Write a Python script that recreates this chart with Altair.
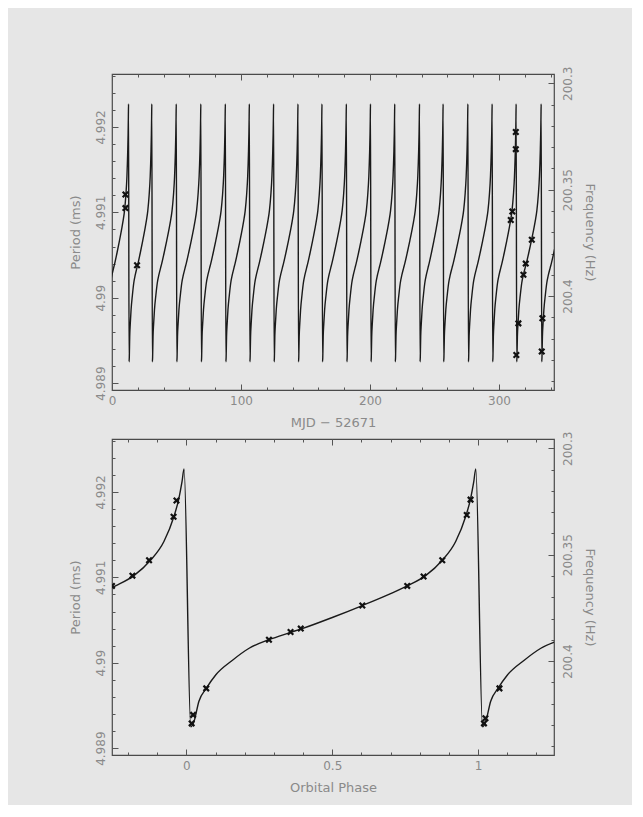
import altair as alt
import pandas as pd

# ---------------- values ----------------
# one orbital cycle of the period curve (bottom panel), phase vs period (ms)
cycle_phase = [0.015, 0.025, 0.043, 0.068, 0.101, 0.158, 0.215, 0.283, 0.352, 0.397,
               0.500, 0.603, 0.700, 0.757, 0.820, 0.877, 0.923, 0.957, 0.974, 0.985, 0.992]
cycle_period = [4.98925, 4.98930, 4.98955, 4.98970, 4.98986, 4.99003, 4.99017, 4.99027,
                4.99035, 4.99040, 4.99053, 4.99067, 4.99081, 4.99090, 4.99102, 4.99120,
                4.99142, 4.99171, 4.99192, 4.99212, 4.99227]

# days (MJD - 52671) of the periastron spikes seen in the top panel
spike_day = [12.96, 31.0, 49.96, 69.0, 88.0, 106.6, 125.4, 144.3, 162.9, 181.8,
             200.5, 219.3, 238.5, 256.8, 276.0, 294.8, 313.4, 332.8]

# measured periods, top panel
top_obs_day = [10.4, 10.4, 19.4, 309.1, 310.3, 313.0, 313.0, 313.4, 315.0, 318.9,
               320.7, 325.4, 333.1, 333.6]
top_obs_period = [4.99121, 4.99105, 4.99038, 4.99091, 4.99101, 4.99194, 4.99174, 4.98933,
                  4.98970, 4.99027, 4.99040, 4.99068, 4.98937, 4.98976]

# measured periods, bottom panel (folded on orbital phase)
bot_obs_phase = [-0.255, -0.185, -0.128, -0.044, -0.034, 0.018, 0.023, 0.068, 0.283, 0.357,
                 0.392, 0.603, 0.757, 0.813, 0.877, 0.961, 0.974, 1.020, 1.025, 1.073]
bot_obs_period = [4.99090, 4.99102, 4.99120, 4.99171, 4.99190, 4.98929, 4.98939, 4.98970,
                  4.99027, 4.99036, 4.99040, 4.99067, 4.99090, 4.99101, 4.99120, 4.99173,
                  4.99191, 4.98929, 4.98935, 4.98970]

# axis ticks
period_major = [4.989, 4.990, 4.991, 4.992]
period_minor = [4.9890, 4.9892, 4.9894, 4.9896, 4.9898, 4.9900, 4.9902, 4.9904, 4.9906,
                4.9908, 4.9910, 4.9912, 4.9914, 4.9916, 4.9918, 4.9920, 4.9922, 4.9924, 4.9926]
freq_major = [200.30, 200.35, 200.40]
freq_minor = [200.30, 200.31, 200.32, 200.33, 200.34, 200.35, 200.36, 200.37, 200.38,
              200.39, 200.40, 200.41, 200.42, 200.43, 200.44]
mjd_major = [0, 100, 200, 300]
mjd_minor = [0, 20, 40, 60, 80, 100, 120, 140, 160, 180, 200, 220, 240, 260, 280, 300, 320, 340]
phase_major = [0, 0.5, 1]
phase_minor = [-0.2, -0.1, 0.0, 0.1, 0.2, 0.3, 0.4, 0.5, 0.6, 0.7, 0.8, 0.9, 1.0, 1.1, 1.2]

period_domain = [4.98892, 4.99262]
mjd_domain = [0, 342.6]
phase_domain = [-0.255, 1.26]

# ---------------- tables built from the arrays ----------------
# bottom panel: the read cycle shown at phase-1, phase, phase+1
bot_rows = []
for k in (-1, 0, 1):
    for ph, p in zip(cycle_phase, cycle_period):
        bot_rows.append({"x": ph + k, "p": p})
bot_curve = pd.DataFrame(bot_rows)

# top panel: the same cycle placed between consecutive spikes
epochs = list(spike_day)
first_gap = epochs[1] - epochs[0]
last_gap = epochs[-1] - epochs[-2]
epochs = [epochs[0] - first_gap] + epochs + [epochs[-1] + last_gap]
top_rows = []
for a, b in zip(epochs[:-1], epochs[1:]):
    for ph, p in zip(cycle_phase, cycle_period):
        top_rows.append({"x": a + ph * (b - a), "p": p})
top_curve = pd.DataFrame(top_rows)

top_obs = pd.DataFrame({"x": top_obs_day, "p": top_obs_period})
bot_obs = pd.DataFrame({"x": bot_obs_phase, "p": bot_obs_period})

freq_major_p = [1000.0 / f for f in freq_major]
freq_minor_p = [1000.0 / f for f in freq_minor]

TXT = "#8a8a8a"
TICK = "#555555"
FONT = "DejaVu Sans"
MAJ = 6
MIN = 3
freq_expr = "format(1000/datum.value, '.2~f')"


def panel(curve, obs, xdom, xmaj, xmin, xfmt, xtitle):
    xs = alt.Scale(domain=xdom, nice=False, zero=False)
    ys = alt.Scale(domain=period_domain, nice=False, zero=False)

    def xax(orient, vals, size, labels=False, title=None):
        kw = dict(orient=orient, values=vals, tickSize=size, offset=-size, domain=False,
                  grid=False, labels=labels, tickColor=TICK, tickWidth=1)
        if labels:
            kw.update(format=xfmt, labelFlush=False, labelPadding=5, labelFont=FONT,
                      labelFontSize=12, labelColor=TXT)
        if title:
            kw.update(title=title, titleFont=FONT, titleFontSize=13, titleColor=TXT,
                      titleFontWeight="normal", titlePadding=10)
        else:
            kw.update(title=None)
        return alt.Axis(**kw)

    def yax(orient, vals, size, labels=False, title=None, expr=None):
        kw = dict(orient=orient, values=vals, tickSize=size, offset=-size, domain=False,
                  grid=False, labels=labels, tickColor=TICK, tickWidth=1)
        if labels:
            kw.update(labelAngle=-90 if orient == "left" else 270, labelAlign="center",
                      labelBaseline="bottom" if orient == "left" else "top",
                      labelPadding=5 if orient == "left" else 8,
                      labelFont=FONT, labelFontSize=12, labelColor=TXT)
            if expr:
                kw.update(labelExpr=expr)
            else:
                kw.update(format=".3~f")
        if title:
            kw.update(title=title, titleFont=FONT, titleFontSize=13, titleColor=TXT,
                      titleFontWeight="normal", titlePadding=12 if orient == "left" else 9)
        else:
            kw.update(title=None)
        return alt.Axis(**kw)

    line = alt.Chart(curve).mark_line(
        color="#1a1a1a", strokeWidth=1.4, clip=True, interpolate="monotone"
    ).encode(
        x=alt.X("x:Q", scale=xs, axis=xax("bottom", xmaj, MAJ, labels=True, title=xtitle)),
        y=alt.Y("p:Q", scale=ys, axis=yax("left", period_major, MAJ, labels=True,
                                          title="Period (ms)")),
    )
    pts = alt.Chart(obs).mark_point(
        shape="M-1,-1L1,1M-1,1L1,-1", filled=False, strokeWidth=2.2, size=30,
        color="#111111", opacity=1, clip=True
    ).encode(
        x=alt.X("x:Q", scale=xs, axis=xax("top", xmaj, MAJ)),
        y=alt.Y("p:Q", scale=ys, axis=yax("right", freq_major_p, MAJ, labels=True,
                                          title="Frequency (Hz)", expr=freq_expr)),
    )
    ghost1 = alt.Chart(obs).mark_point(opacity=0).encode(
        x=alt.X("x:Q", scale=xs, axis=xax("bottom", xmin, MIN)),
        y=alt.Y("p:Q", scale=ys, axis=yax("left", period_minor, MIN)),
    )
    ghost2 = alt.Chart(obs).mark_point(opacity=0).encode(
        x=alt.X("x:Q", scale=xs, axis=xax("top", xmin, MIN)),
        y=alt.Y("p:Q", scale=ys, axis=yax("right", freq_minor_p, MIN)),
    )
    return alt.layer(line, pts, ghost1, ghost2).resolve_axis(
        x="independent", y="independent"
    ).properties(width=442, height=316)


top = panel(top_curve, top_obs, mjd_domain, mjd_major, mjd_minor, "d", "MJD \u2212 52671")
bottom = panel(bot_curve, bot_obs, phase_domain, phase_major, phase_minor, "~g", "Orbital Phase")

chart = alt.vconcat(top, bottom, spacing=49, bounds="flush").properties(
    background="#e6e6e6",
    padding={"left": 60, "top": 57, "right": 36, "bottom": 10},
).configure_view(stroke="#4a4a4a", strokeWidth=1.2)

chart.save("out.html", embed_options={"renderer": "svg", "actions": False})
